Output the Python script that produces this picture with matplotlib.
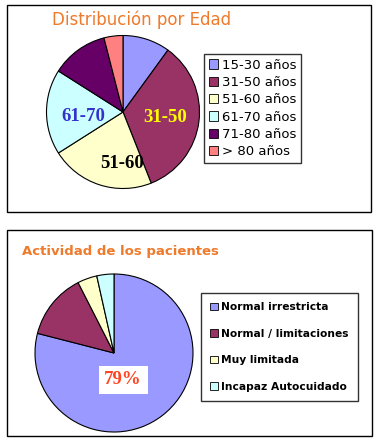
import matplotlib
matplotlib.use("Agg")
import matplotlib.pyplot as plt
from matplotlib.patches import Rectangle, Patch
import numpy as np

# ---- data ----
age_labels = ["15-30 años", "31-50 años", "51-60 años", "61-70 años", "71-80 años", "> 80 años"]
age_values = [10, 34, 22, 18, 12, 4]
age_colors = ["#9999FF", "#993366", "#FFFFCC", "#CCFFFF", "#660066", "#FF8080"]
age_inner = ["", "31-50", "51-60", "61-70", "", ""]
age_inner_colors = ["k", "#FFFF00", "#000000", "#3333CC", "k", "k"]

act_labels = ["Normal irrestricta", "Normal / limitaciones", "Muy limitada", "Incapaz Autocuidado"]
act_values = [79, 13.5, 4, 3.5]
act_colors = ["#9999FF", "#993366", "#FFFFCC", "#CCFFFF"]
act_inner = ["79%", "", "", ""]

W, H = 381, 442
fig = plt.figure(figsize=(W / 100, H / 100), dpi=100)
fig.patch.set_facecolor("white")

def fbox(x0, y0, x1, y1):
    return [x0 / W, 1 - y1 / H, (x1 - x0) / W, (y1 - y0) / H]

# panel borders
for (x0, y0, x1, y1) in [(6.5, 5, 371, 211.5), (7, 230, 371.5, 435.5)]:
    b = fbox(x0, y0, x1, y1)
    fig.add_artist(Rectangle((b[0], b[1]), b[2], b[3], transform=fig.transFigure,
                             fill=False, edgecolor="black", lw=1))

orange = "#EE7A2C"

# ---- top pie ----
cx, cy, r = 123, 112, 76.5
ax1 = fig.add_axes(fbox(cx - r, cy - r, cx + r, cy + r))
w1, _ = ax1.pie(age_values, colors=age_colors, startangle=90, counterclock=False,
                wedgeprops=dict(edgecolor="black", linewidth=0.8))
ax1.set_xlim(-1, 1); ax1.set_ylim(-1, 1); ax1.axis("off")
# label placement (radius fraction, angle offset in degrees)
place1 = {1: (0.55, 0), 2: (0.67, 17), 3: (0.52, 7)}
for i, (txt, col) in enumerate(zip(age_inner, age_inner_colors)):
    if not txt:
        continue
    wdg = w1[i]
    rr, off = place1[i]
    ang = np.deg2rad((wdg.theta1 + wdg.theta2) / 2 + off)
    ax1.text(rr * np.cos(ang), rr * np.sin(ang), txt, color=col, ha="center", va="center",
             fontsize=13.5, fontweight="bold", family="Liberation Serif")

fig.text(52 / W, 1 - 20 / H, "Distribución por Edad", color=orange, fontsize=12,
         fontweight="normal", ha="left", va="center", family="DejaVu Sans")

h1 = [Patch(facecolor=c, edgecolor="black", lw=0.6) for c in age_colors]
leg1 = fig.legend(h1, age_labels, loc="upper left", bbox_to_anchor=(204 / W, 1 - 54 / H),
                  frameon=True, fancybox=False, fontsize=9.5, handlelength=0.7, handleheight=0.7,
                  handletextpad=0.3, labelspacing=0.33, borderpad=0.35, borderaxespad=0)
leg1.get_frame().set_edgecolor("black"); leg1.get_frame().set_linewidth(1)

# ---- bottom pie ----
cx, cy, r = 114, 353, 79
ax2 = fig.add_axes(fbox(cx - r, cy - r, cx + r, cy + r))
w2, _ = ax2.pie(act_values, colors=act_colors, startangle=90, counterclock=False,
                wedgeprops=dict(edgecolor="black", linewidth=0.8))
ax2.set_xlim(-1, 1); ax2.set_ylim(-1, 1); ax2.axis("off")
wdg = w2[0]
ang = np.deg2rad((wdg.theta1 + wdg.theta2) / 2 - 19)
ax2.text(0.36 * np.cos(ang), 0.36 * np.sin(ang), act_inner[0], color="#FF4422",
         ha="center", va="center", fontsize=13.5, fontweight="bold", family="Liberation Serif",
         bbox=dict(facecolor="white", edgecolor="none", boxstyle="square,pad=0.3"))

fig.text(22 / W, 1 - 252 / H, "Actividad de los pacientes", color=orange, fontsize=9.5,
         fontweight="bold", ha="left", va="center", family="DejaVu Sans")

h2 = [Patch(facecolor=c, edgecolor="black", lw=0.6) for c in act_colors]
leg2 = fig.legend(h2, act_labels, loc="upper left", bbox_to_anchor=(201 / W, 1 - 293 / H),
                  frameon=True, fancybox=False, handlelength=0.7, handleheight=0.7,
                  handletextpad=0.35, labelspacing=1.55, borderpad=0.85, borderaxespad=0,
                  prop=dict(weight="bold", size=7.7))
leg2.get_frame().set_edgecolor("black"); leg2.get_frame().set_linewidth(1)

fig.savefig("out.png", dpi=100, facecolor="white")
